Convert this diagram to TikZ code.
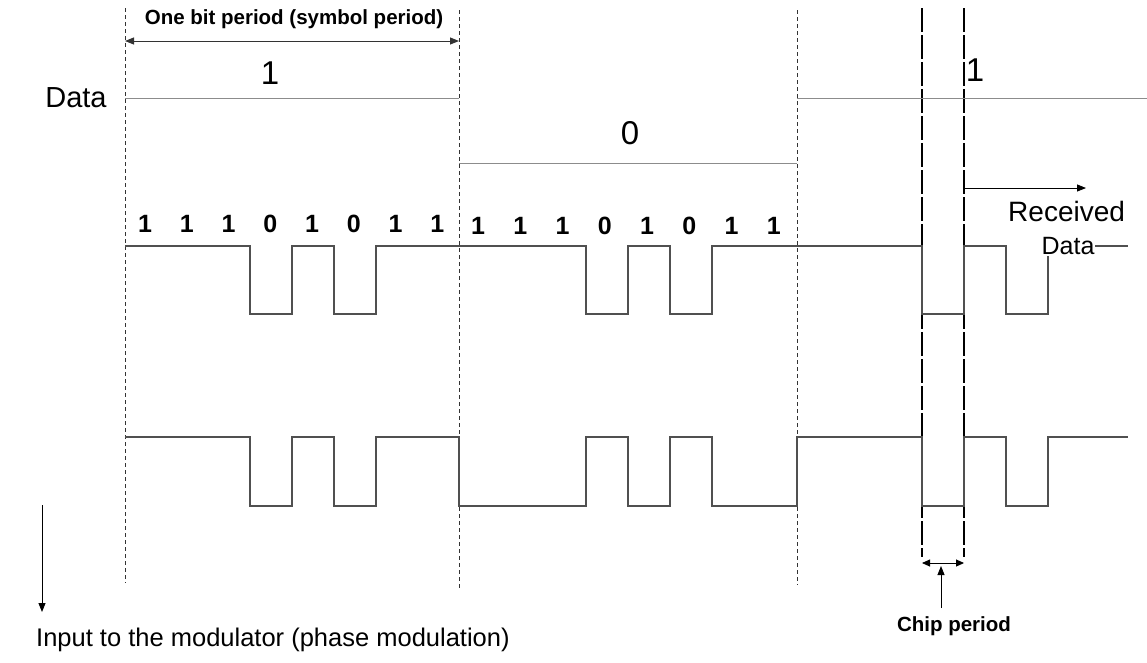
\documentclass[tikz,border=0pt]{standalone}
\usepackage{fontspec}
\setmainfont{Liberation Sans}
\usetikzlibrary{arrows.meta,positioning}
\definecolor{wavegray}{RGB}{80,80,80}
\definecolor{datagray}{RGB}{140,140,140}

\begin{document}
\begin{tikzpicture}[
    x=1pt, y=-1pt,
    wave/.style={draw=wavegray, line width=1.1pt},
    dataline/.style={draw=datagray, line width=1pt},
    bitline/.style={draw=black!80, line width=0.8pt, dash pattern=on 4pt off 3pt},
    chipline/.style={draw=black, line width=1.8pt, dash pattern=on 24pt off 3pt},
    tip/.style={-{Triangle[length=9pt,width=7pt]}},
    bittext/.style={inner sep=0pt, font=\fontsize{33}{36}\selectfont},
    chiptext/.style={inner sep=0pt, font=\fontsize{25}{28}\selectfont\bfseries},
    label/.style={inner sep=0pt, font=\fontsize{20.5}{24}\selectfont\bfseries}
]
    \useasboundingbox (0,0) rectangle (1147,662);

    % Bit period boundaries
    \coordinate (b0t) at (125,8);  \coordinate (b0b) at (125,583);
    \coordinate (b1t) at (459,10); \coordinate (b1b) at (459,590);
    \coordinate (b2t) at (797,10); \coordinate (b2b) at (797,585);
    \draw[bitline] (b0t) -- (b0b);
    \draw[bitline] (b1t) -- (b1b);
    \draw[bitline] (b2t) -- (b2b);

    % Chip period boundaries
    \coordinate (k0t) at (922,8); \coordinate (k0b) at (922,557);
    \coordinate (k1t) at (964,8); \coordinate (k1b) at (964,557);
    \draw[chipline] (k0t) -- (k0b);
    \draw[chipline] (k1t) -- (k1b);

    % One bit period
    \node[label] (bitlabel) at (294,19) {One bit period (symbol period)};
    \coordinate (p0) at (125,41);
    \coordinate (p1) at (459,41);
    \draw[black!80, line width=1pt, {Triangle[length=9pt,width=7pt]}-{Triangle[length=9pt,width=7pt]}] (p0) -- (p1);

    % Data
    \node[inner sep=0pt, font=\fontsize{29}{32}\selectfont] (data) at (76,98) {Data};
    \draw[dataline] (125,98) -- (459,98);
    \draw[dataline] (459,163) -- (797,163);
    \draw[dataline] (797,98) -- (1147,98);
    \node[bittext] (d1) at (270,73) {1};
    \node[bittext] (d2) at (630,133) {0};
    \node[bittext] (d3) at (975,70) {1};

    % Spreading code
    \foreach \v [count=\i from 0] in {1,1,1,0,1,0,1,1} {
        \node[chiptext] (ca\i) at (145+\i*41.75,224) {\v};
        \node[chiptext] (cb\i) at (478+\i*42.25,226) {\v};
    }
    \draw[wave] (125,246) -- (250,246) -- (250,314) -- (292,314) -- (292,246) -- (334,246)
        -- (334,314) -- (376,314) -- (376,246) -- (586,246) -- (586,314) -- (628,314)
        -- (628,246) -- (670,246) -- (670,314) -- (712,314) -- (712,246) -- (922,246)
        -- (922,314) -- (964,314) -- (964,246) -- (1006,246) -- (1006,314) -- (1048,314)
        -- (1048,246) -- (1128,246);

    % Received data
    \coordinate (r0) at (964,188);
    \coordinate (r1) at (1086,188);
    \draw[tip, line width=0.9pt] (r0) -- (r1);
    \node[inner sep=0pt, anchor=west, font=\fontsize{28}{30}\selectfont] (rec) at (1008,211) {Received};
    \node[inner sep=1pt, fill=white, font=\fontsize{25}{26}\selectfont] (recdata) at (1068,246) {Data};

    % Modulator input
    \draw[wave] (125,437) -- (250,437) -- (250,506) -- (292,506) -- (292,437) -- (334,437)
        -- (334,506) -- (376,506) -- (376,437) -- (459,437) -- (459,506) -- (586,506)
        -- (586,437) -- (628,437) -- (628,506) -- (670,506) -- (670,437) -- (712,437)
        -- (712,506) -- (797,506) -- (797,437) -- (922,437) -- (922,506) -- (964,506)
        -- (964,437) -- (1006,437) -- (1006,506) -- (1048,506) -- (1048,437) -- (1128,437);
    \node[inner sep=0pt, anchor=west, font=\fontsize{25.5}{28}\selectfont] (input) at (36,640)
        {Input to the modulator (phase modulation)};
    \coordinate (m0) at (42,505);
    \coordinate (m1) at (42,612);
    \draw[tip, line width=0.9pt] (m0) -- (m1);

    % Chip period
    \node[label] (chiplabel) at (954,626) {Chip period};
    \coordinate (q0) at (922,563);
    \coordinate (q1) at (964,563);
    \coordinate (q2) at (941,608);
    \coordinate (q3) at (941,566);
    \draw[line width=0.9pt, {Triangle[length=8pt,width=7pt]}-{Triangle[length=8pt,width=7pt]}] (q0) -- (q1);
    \draw[tip, line width=0.9pt] (q2) -- (q3);
\end{tikzpicture}
\end{document}
